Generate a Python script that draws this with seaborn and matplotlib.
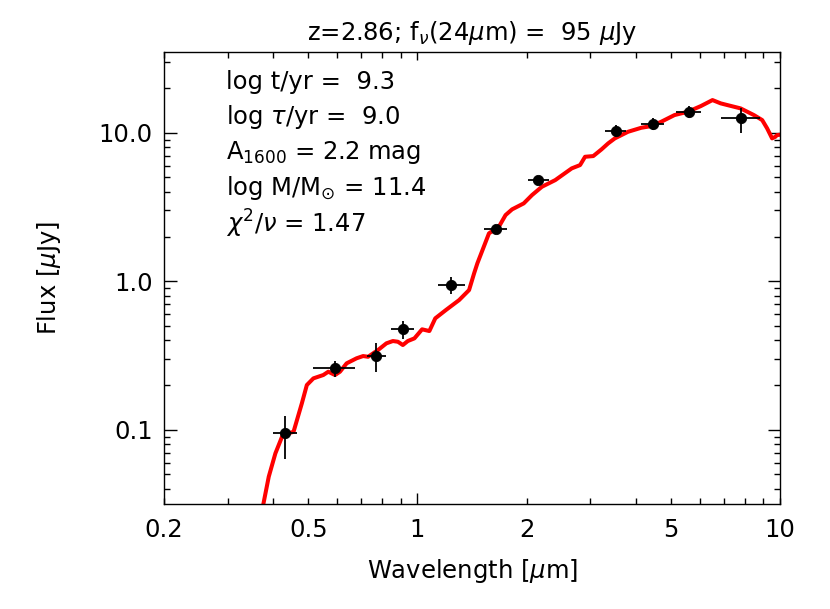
import numpy as np
import pandas as pd
import matplotlib
matplotlib.use("Agg")
import matplotlib.pyplot as plt
import seaborn as sns
from matplotlib.ticker import NullFormatter

# model SED (wavelength in micron, flux in uJy)
model_wave = [0.3754, 0.389, 0.4057, 0.4232, 0.4412, 0.4553, 0.480, 0.4954, 0.5165, 0.550,
              0.5677, 0.5924, 0.6114, 0.6378, 0.6793, 0.7082, 0.7309, 0.7783, 0.821, 0.8556,
              0.8832, 0.9115, 0.9406, 0.981, 1.030, 1.0786, 1.120, 1.198, 1.303, 1.388,
              1.433, 1.463, 1.575, 1.677, 1.750, 1.824, 1.964, 2.070, 2.204, 2.399,
              2.664, 2.809, 2.899, 3.054, 3.218, 3.357, 3.503, 3.81, 4.143, 4.413,
              4.70, 5.115, 5.563, 6.047, 6.512, 6.861, 7.157, 7.783, 8.472, 8.929,
              9.213, 9.508, 9.707, 9.81, 10.0]
model_flux = [0.0311, 0.0483, 0.0693, 0.0897, 0.0946, 0.0969, 0.1507, 0.200, 0.2218, 0.2336,
              0.2459, 0.2336, 0.2459, 0.280, 0.3027, 0.3135, 0.310, 0.344, 0.3818, 0.3957,
              0.3914, 0.3719, 0.3957, 0.4125, 0.4745, 0.462, 0.5627, 0.640, 0.747, 0.8723,
              1.130, 1.32, 2.102, 2.328, 2.791, 3.05, 3.346, 3.806, 4.329, 4.80,
              5.759, 6.06, 6.893, 6.968, 7.73, 8.484, 9.17, 10.16, 10.81, 11.09,
              11.86, 13.16, 13.85, 15.13, 16.61, 15.78, 15.37, 14.60, 13.16, 12.18,
              10.71, 9.17, 9.40, 9.65, 9.7]

# photometry
obs_wave = [0.432, 0.592, 0.770, 0.910, 1.24, 1.649, 2.145, 3.53, 4.46, 5.61, 7.80]
obs_flux = [0.0946, 0.259, 0.315, 0.474, 0.943, 2.236, 4.80, 10.27, 11.44, 13.85, 12.5]
wave_lo = [0.399, 0.515, 0.724, 0.844, 1.137, 1.526, 2.018, 3.29, 4.14, 5.17, 6.86]
wave_hi = [0.466, 0.672, 0.821, 0.977, 1.354, 1.768, 2.30, 3.77, 4.78, 6.07, 8.83]
flux_lo = [0.064, 0.2275, 0.246, 0.406, 0.82, 2.07, 4.45, 9.40, 10.4, 12.5, 10.0]
flux_hi = [0.124, 0.290, 0.382, 0.540, 1.06, 2.39, 5.05, 11.27, 12.5, 15.1, 14.8]

xtick_vals = [0.2, 0.5, 1, 2, 5, 10]
xtick_labels = ["0.2", "0.5", "1", "2", "5", "10"]
ytick_vals = [0.1, 1.0, 10.0]
ytick_labels = ["0.1", "1.0", "10.0"]

fit_text = [r"log t/yr =  9.3",
            r"log $\tau$/yr =  9.0",
            r"A$_{1600}$ = 2.2 mag",
            r"log M/M$_{\odot}$ = 11.4",
            r"$\chi^2/\nu$ = 1.47"]

sns.set_style("ticks")
plt.rcParams["font.family"] = ["DejaVu Sans"]
plt.rcParams["mathtext.fontset"] = "dejavusans"
plt.rcParams["font.size"] = 17.5
plt.rcParams["text.color"] = "black"
plt.rcParams["axes.labelcolor"] = "black"

FS = 17.5

model = pd.DataFrame({"wave": model_wave, "flux": model_flux})
obs = pd.DataFrame({"wave": obs_wave, "flux": obs_flux})

fig = plt.figure(figsize=(8.3, 6.09), dpi=100)
ax = fig.add_axes([0.1976, 0.1724, 0.7422, 0.7422])

sns.lineplot(data=model, x="wave", y="flux", color="#ff0000", lw=2.9,
             sort=False, estimator=None, ax=ax, zorder=2)
xerr = [np.array(obs_wave) - np.array(wave_lo), np.array(wave_hi) - np.array(obs_wave)]
yerr = [np.array(obs_flux) - np.array(flux_lo), np.array(flux_hi) - np.array(obs_flux)]
ax.errorbar(obs_wave, obs_flux, xerr=xerr, yerr=yerr, fmt="none",
            ecolor="black", elinewidth=1.3, capsize=0, zorder=3)
sns.scatterplot(data=obs, x="wave", y="flux", color="black", s=55,
                edgecolor="black", ax=ax, zorder=4)

ax.set_xscale("log")
ax.set_yscale("log")
ax.set_xlim(0.2, 10)
ax.set_ylim(0.0316, 35)

ax.set_xticks(xtick_vals, labels=xtick_labels)
ax.set_xticks([0.3, 0.4, 0.6, 0.7, 0.8, 0.9, 3, 4, 6, 7, 8, 9], minor=True)
ax.xaxis.set_minor_formatter(NullFormatter())
ax.set_yticks(ytick_vals, labels=ytick_labels)
ax.set_yticks([v * m for v in [0.01, 0.1, 1, 10] for m in range(2, 10)
               if 0.0316 < v * m < 35], minor=True)
ax.yaxis.set_minor_formatter(NullFormatter())

ax.tick_params(which="both", direction="in", top=True, right=True, width=1.0,
               labelsize=FS, colors="black")
ax.tick_params(axis="x", which="both", length=4, pad=10)
ax.tick_params(axis="y", which="major", length=9, pad=8)
ax.tick_params(axis="y", which="minor", length=4.5)
for t in ax.xaxis.get_major_ticks():
    if t.get_loc() == 1:
        t.tick1line.set_markersize(8)
        t.tick2line.set_markersize(6)

for side in ax.spines.values():
    side.set_linewidth(1.0)
    side.set_color("black")

ax.set_xlabel(r"Wavelength [$\mu$m]", fontsize=FS, labelpad=11)
ax.set_ylabel(r"Flux [$\mu$Jy]", fontsize=FS, labelpad=26)
ax.set_title(r"z=2.86; f$_{\nu}$(24$\mu$m) =  95 $\mu$Jy", fontsize=FS, pad=9)

for i, line in enumerate(fit_text):
    ax.text(0.1, 0.934 - i * 0.0785, line, transform=ax.transAxes,
            fontsize=FS, va="center", ha="left")

fig.savefig("out.png", dpi=100)
